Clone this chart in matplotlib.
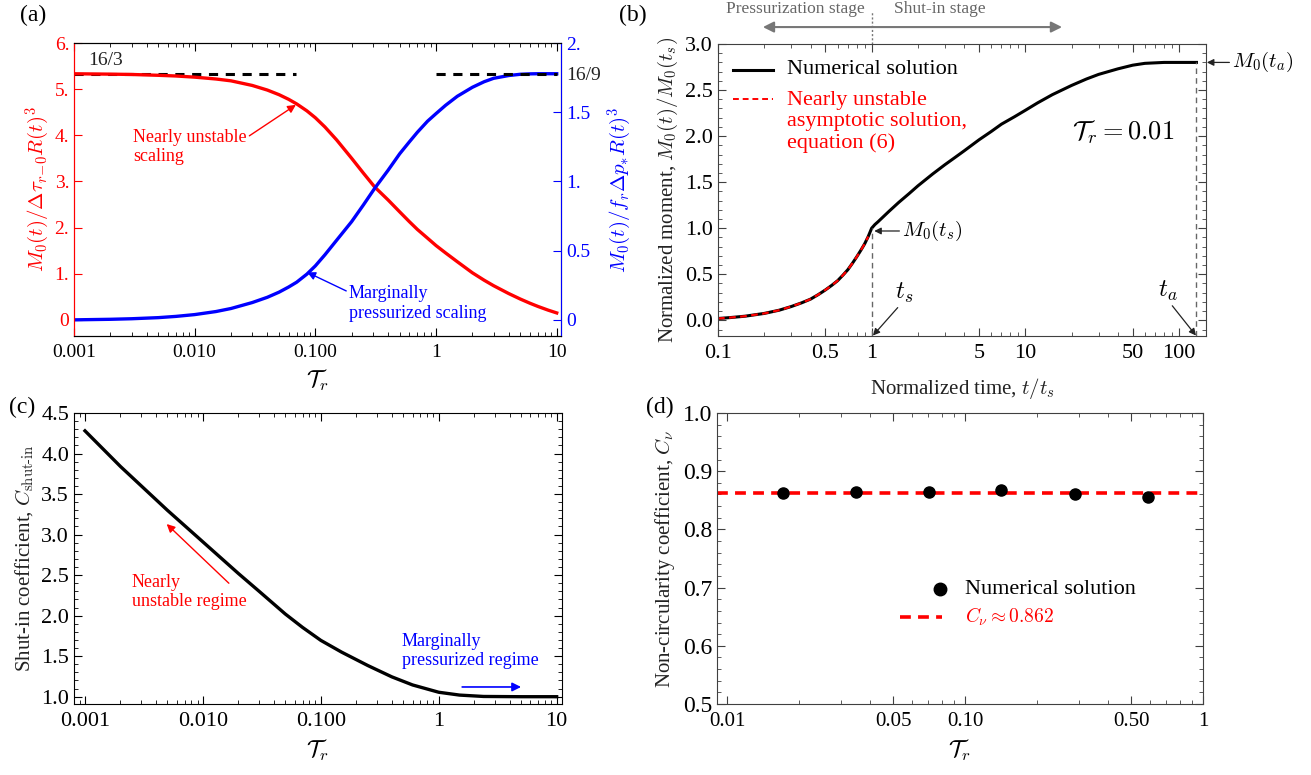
import numpy as np
import matplotlib
matplotlib.use("Agg")
import matplotlib.pyplot as plt
from matplotlib.ticker import (FixedLocator, FixedFormatter, NullFormatter, LogLocator,
                               MultipleLocator, FormatStrFormatter)

plt.rcParams['font.family'] = ['Liberation Serif', 'DejaVu Serif']
plt.rcParams['mathtext.fontset'] = 'cm'
plt.rcParams['xtick.direction'] = 'in'
plt.rcParams['ytick.direction'] = 'in'
plt.rcParams['xtick.major.pad'] = 6

# ---- data ----
# (a) scaled moment vs T_r
a_tau = [0.001, 0.002, 0.003, 0.005, 0.007, 0.01, 0.015, 0.02, 0.03, 0.04, 0.05, 0.06,
         0.07, 0.085, 0.1, 0.12, 0.15, 0.2, 0.25, 0.31, 0.4, 0.5, 0.6, 0.7, 0.85, 1.0,
         1.2, 1.5, 2.0, 2.5, 3.0, 4.0, 5.0, 6.0, 7.0, 8.5, 10]
a_red = [5.333, 5.325, 5.318, 5.30, 5.285, 5.26, 5.22, 5.18, 5.08, 4.98, 4.88, 4.78,
         4.68, 4.53, 4.38, 4.18, 3.90, 3.50, 3.18, 2.88, 2.60, 2.34, 2.13, 1.96, 1.77, 1.61,
         1.45, 1.26, 1.02, 0.86, 0.74, 0.57, 0.45, 0.36, 0.29, 0.21, 0.15]
a_blue = [0.0, 0.004, 0.008, 0.016, 0.025, 0.038, 0.06, 0.082, 0.125, 0.163, 0.20, 0.237,
          0.272, 0.33, 0.39, 0.47, 0.575, 0.71, 0.83, 0.95, 1.08, 1.20, 1.285, 1.355, 1.435,
          1.49, 1.55, 1.615, 1.68, 1.72, 1.745, 1.765, 1.774, 1.777, 1.778, 1.778, 1.778]
a_lim_red = 16 / 3
a_lim_blue = 16 / 9

# (b) normalized moment vs normalized time
b_t = [0.1, 0.12, 0.15, 0.2, 0.25, 0.3, 0.35, 0.4, 0.45, 0.5, 0.55, 0.6, 0.65, 0.7, 0.75,
       0.8, 0.85, 0.9, 0.95, 1.0, 1.05, 1.1, 1.2, 1.3, 1.5, 1.75, 2, 2.5, 3, 3.5, 4, 5, 6,
       7, 8.5, 10, 12, 15, 20, 25, 30, 40, 50, 60, 80, 100, 130]
b_M = [0.02, 0.03, 0.045, 0.075, 0.11, 0.15, 0.19, 0.23, 0.28, 0.33, 0.38, 0.43, 0.49,
       0.55, 0.62, 0.69, 0.76, 0.83, 0.91, 1.0, 1.04, 1.07, 1.13, 1.185, 1.28, 1.375, 1.46,
       1.59, 1.69, 1.77, 1.84, 1.96, 2.05, 2.13, 2.21, 2.28, 2.36, 2.45, 2.55, 2.62, 2.67,
       2.73, 2.77, 2.79, 2.80, 2.80, 2.80]
b_t_asym = [0.1, 0.12, 0.15, 0.2, 0.25, 0.3, 0.35, 0.4, 0.45, 0.5, 0.55, 0.6, 0.65, 0.7,
            0.75, 0.8, 0.85, 0.9, 0.95]
b_M_asym = [0.02, 0.03, 0.045, 0.075, 0.11, 0.15, 0.19, 0.23, 0.28, 0.33, 0.38, 0.43, 0.49,
            0.55, 0.62, 0.69, 0.76, 0.83, 0.91]
t_s, M_ts = 1.0, 1.0
t_a, M_ta = 130.0, 2.80

# (c) shut-in coefficient vs T_r
c_tau = [0.001, 0.002, 0.005, 0.01, 0.02, 0.03, 0.05, 0.07, 0.1, 0.15, 0.25, 0.4, 0.6,
         1.0, 1.5, 2.4, 5, 10]
c_C = [4.28, 3.84, 3.30, 2.91, 2.52, 2.30, 2.02, 1.855, 1.695, 1.55, 1.385, 1.245, 1.145,
       1.055, 1.02, 1.003, 1.0, 1.0]

# (d) non-circularity coefficient
d_tau = [0.0172, 0.0348, 0.0703, 0.142, 0.29, 0.589]
d_C = [0.862, 0.865, 0.865, 0.868, 0.861, 0.855]
d_fit = 0.862

RED = '#ff0000'
BLUE = '#0000ff'
GRAY = '#404040'

fig = plt.figure(figsize=(13.11, 7.75), dpi=100)
W, H = 1311, 775


def box(x0, y0, x1, y1):
    return [x0 / W, 1 - y1 / H, (x1 - x0) / W, (y1 - y0) / H]


def log_ticks(ax, major, labels):
    ax.xaxis.set_major_locator(FixedLocator(major))
    ax.xaxis.set_major_formatter(FixedFormatter(labels))
    ax.xaxis.set_minor_locator(LogLocator(subs=np.arange(2, 10)))
    ax.xaxis.set_minor_formatter(NullFormatter())


# ================= (a) =================
ax = fig.add_axes(box(74, 43, 561, 336))
ax2 = ax.twinx()
ax.plot(a_tau, a_red, color=RED, lw=2.4, zorder=3)
ax2.plot(a_tau, a_blue, color=BLUE, lw=2.4, zorder=2)
ax.plot([0.001, 0.069], [a_lim_red, a_lim_red], 'k--', lw=2.2, dashes=(3, 2.5))
ax2.plot([1, 10], [a_lim_blue, a_lim_blue], 'k--', lw=2.2, dashes=(3, 2.5))
ax.set_xscale('log')
ax.set_xlim(0.001, 10.85)
ax.set_ylim(-0.35, 6)
ax2.set_ylim(-0.35 / 3, 2)
log_ticks(ax, [0.001, 0.01, 0.1, 1, 10], ['0.001', '0.010', '0.100', '1', '10'])
ax.set_yticks(range(7))
ax.set_yticklabels(['0', '1.', '2.', '3.', '4.', '5.', '6.'])
ax2.set_yticks([0, 0.5, 1, 1.5, a_lim_blue, 2])
ax2.set_yticklabels(['0', '0.5', '1.', '1.5', '16/9', '2.'])
ax.tick_params(axis='x', which='both', top=True, labelsize=14)
ax.tick_params(axis='x', which='major', length=6)
ax.tick_params(axis='x', which='minor', length=3)
ax.tick_params(axis='y', colors=RED, labelsize=14, length=6)
ax2.tick_params(axis='y', colors=BLUE, labelsize=14, length=6)
ax2.get_yticklabels()[4].set_color('#222222')
ax2.yaxis.get_major_ticks()[4].tick2line.set_visible(False)
ax.spines['left'].set_color(RED)
ax2.spines['left'].set_color(RED)
ax2.spines['right'].set_color(BLUE)
ax.set_ylabel(r'$M_0(t)/\Delta\tau_{r\!-\!0}R(t)^3$', color=RED, fontsize=15, labelpad=2)
ax2.set_ylabel(r'$M_0(t)/f_r\Delta p_{*}R(t)^3$', color=BLUE, fontsize=15, labelpad=4)
ax.set_xlabel(r'$\mathcal{T}_r$', fontsize=17, labelpad=5)
ax.text(0.00131, 5.63, '16/3', fontsize=14, color='#222222', va='center')
ax.annotate('Nearly unstable\nscaling', xy=(0.069, 4.66), xytext=(0.00308, 3.75),
            color=RED, fontsize=13, va='center', ha='left',
            arrowprops=dict(arrowstyle='-|>', color=RED, lw=1.0, shrinkA=0, shrinkB=0,
                            mutation_scale=12, relpos=(1.0, 0.75)))
ax.annotate('Marginally\npressurized scaling', xy=(0.0857, 1.03), xytext=(0.19, 0.36),
            color=BLUE, fontsize=13, va='center', ha='left',
            arrowprops=dict(arrowstyle='-|>', color=BLUE, lw=1.0, shrinkA=0, shrinkB=0,
                            mutation_scale=12, relpos=(0.0, 0.8)))
fig.text(33 / W, 1 - 15 / H, '(a)', fontsize=17, ha='center', va='center')

# ================= (b) =================
ax = fig.add_axes(box(718, 44, 1206, 336))
ax.plot(b_t, b_M, color='k', lw=2.2)
ax.plot(b_t_asym, b_M_asym, color=RED, lw=1.6, ls=(0, (3, 2)))
ax.plot([t_s, t_s], [-0.17, M_ts], color='#666666', lw=1.0, ls=(0, (4, 3)))
ax.plot([t_a, t_a], [-0.17, M_ta], color='#666666', lw=1.0, ls=(0, (4, 3)))
ax.set_xscale('log')
ax.set_xlim(0.1, 150)
ax.set_ylim(-0.17, 3.0)
log_ticks(ax, [0.1, 0.5, 1, 5, 10, 50, 100], ['0.1', '0.5', '1', '5', '10', '50', '100'])
ax.yaxis.set_major_locator(MultipleLocator(0.5))
ax.yaxis.set_minor_locator(MultipleLocator(0.1))
ax.yaxis.set_major_formatter(FormatStrFormatter('%.1f'))
ax.tick_params(which='both', top=True, right=True, colors=GRAY, labelcolor='k', labelsize=16)
ax.tick_params(which='major', length=6)
ax.tick_params(which='minor', length=3)
for s in ax.spines.values():
    s.set_color(GRAY)
ax.set_xlabel(r'Normalized time, $t/t_s$', fontsize=15, color='#222222', labelpad=9)
ax.set_ylabel(r'Normalized moment, $M_0(t)/M_0(t_s)$', fontsize=15, color='#222222', labelpad=4)
ax.text(43, 2.04, r'$\mathcal{T}_r = 0.01$', fontsize=19, ha='center', va='center')
ak = dict(arrowstyle='-|>', color='#222222', lw=0.9, shrinkA=0, shrinkB=0, mutation_scale=10)
ax.annotate(r'$M_0(t_s)$', xy=(1.04, 0.97), xytext=(1.58, 0.97), fontsize=15,
            va='center', ha='left', arrowprops=ak)
ax.annotate(r'$t_s$', xy=(1.02, -0.165), xytext=(1.62, 0.30), fontsize=18,
            va='center', ha='center', arrowprops=dict(ak, relpos=(0.3, 0.0)))
ax.annotate(r'$M_0(t_a)$', xy=(152, M_ta), xytext=(222, M_ta), fontsize=15,
            va='center', ha='left', arrowprops=ak, annotation_clip=False)
ax.annotate(r'$t_a$', xy=(129, -0.165), xytext=(85, 0.32), fontsize=18,
            va='center', ha='center', arrowprops=dict(ak, relpos=(0.6, 0.0)))
# legend drawn by hand
ax.plot([0.031, 0.113], [0.911, 0.911], color='k', lw=2.2, transform=ax.transAxes)
ax.plot([0.031, 0.113], [0.812, 0.812], color=RED, lw=1.4, ls=(0, (3, 2)),
        transform=ax.transAxes)
ax.text(0.141, 0.911, 'Numerical solution', transform=ax.transAxes, fontsize=16,
        va='center', ha='left')
ax.text(0.141, 0.838, 'Nearly unstable\nasymptotic solution,\nequation (6)',
        transform=ax.transAxes, fontsize=16, va='top', ha='left', color=RED,
        linespacing=1.15)
# stage arrows above the axes
xs = 0.315
ax.plot([xs, xs], [1.0, 1.11], color='#777777', lw=1.0, ls=(0, (1.5, 1.5)),
        transform=ax.transAxes, clip_on=False)
ga = dict(arrowstyle='-|>', color='#777777', lw=1.5, shrinkA=0, shrinkB=0, mutation_scale=16)
ax.annotate('', xy=(0.092, 1.058), xytext=(xs, 1.058), xycoords='axes fraction',
            arrowprops=ga, annotation_clip=False)
ax.annotate('', xy=(0.705, 1.058), xytext=(xs, 1.058), xycoords='axes fraction',
            arrowprops=ga, annotation_clip=False)
ax.text(0.158, 1.12, 'Pressurization stage', transform=ax.transAxes, fontsize=12.5,
        color='#666666', ha='center', va='center')
ax.text(0.455, 1.12, 'Shut-in stage', transform=ax.transAxes, fontsize=12.5,
        color='#666666', ha='center', va='center')
fig.text(633 / W, 1 - 15 / H, '(b)', fontsize=17, ha='center', va='center')

# ================= (c) =================
ax = fig.add_axes(box(74, 413, 562, 704))
ax.plot(c_tau, c_C, color='k', lw=2.4)
ax.set_xscale('log')
ax.set_xlim(0.000807, 11.1)
ax.set_ylim(0.91, 4.5)
log_ticks(ax, [0.001, 0.01, 0.1, 1, 10], ['0.001', '0.010', '0.100', '1', '10'])
ax.yaxis.set_major_locator(MultipleLocator(0.5))
ax.yaxis.set_minor_locator(MultipleLocator(0.1))
ax.yaxis.set_major_formatter(FormatStrFormatter('%.1f'))
ax.tick_params(which='both', top=True, right=True, labelsize=16)
ax.tick_params(which='major', length=6)
ax.tick_params(which='minor', length=3)
ax.set_xlabel(r'$\mathcal{T}_r$', fontsize=17, labelpad=5)
ax.set_ylabel(r'Shut-in coefficient, $C_{\mathrm{shut}\text{-}\mathrm{in}}$', fontsize=15,
              color='#222222', labelpad=4)
ax.annotate('', xy=(0.00493, 3.13), xytext=(0.0166, 2.40),
            arrowprops=dict(arrowstyle='-|>', color=RED, lw=1.0, shrinkA=0, shrinkB=0,
                            mutation_scale=12))
ax.text(0.00249, 2.29, 'Nearly\nunstable regime', color=RED, fontsize=13, va='center',
        ha='left', linespacing=1.1)
ax.annotate('', xy=(4.99, 1.12), xytext=(1.58, 1.12),
            arrowprops=dict(arrowstyle='-|>', color=BLUE, lw=1.2, shrinkA=0, shrinkB=0,
                            mutation_scale=13))
ax.text(0.485, 1.565, 'Marginally\npressurized regime', color=BLUE, fontsize=13,
        va='center', ha='left', linespacing=1.1)
fig.text(22 / W, 1 - 407 / H, '(c)', fontsize=17, ha='center', va='center')

# ================= (d) =================
ax = fig.add_axes(box(717, 413, 1203, 704))
ax.axhline(d_fit, color=RED, lw=2.6, ls=(0, (3, 2)))
ax.plot(d_tau, d_C, 'o', color='k', ms=8)
ax.set_xscale('log')
ax.set_xlim(0.00908, 1)
ax.set_ylim(0.5, 1.0)
log_ticks(ax, [0.01, 0.05, 0.1, 0.5, 1], ['0.01', '0.05', '0.10', '0.50', '1'])
ax.yaxis.set_major_locator(MultipleLocator(0.1))
ax.yaxis.set_minor_locator(MultipleLocator(0.02))
ax.yaxis.set_major_formatter(FormatStrFormatter('%.1f'))
ax.tick_params(which='both', top=True, right=True, colors=GRAY, labelcolor='k')
ax.tick_params(axis='y', labelsize=17)
ax.tick_params(axis='x', labelsize=15)
ax.tick_params(which='major', length=6)
ax.tick_params(which='minor', length=3)
for s in ax.spines.values():
    s.set_color(GRAY)
ax.set_xlabel(r'$\mathcal{T}_r$', fontsize=17, labelpad=5)
ax.set_ylabel(r'Non-circularity coefficient, $C_\nu$', fontsize=15, color='#222222',
              labelpad=4)
ax.plot([0.459], [0.395], 'o', color='k', ms=9, transform=ax.transAxes)
ax.text(0.51, 0.395, 'Numerical solution', transform=ax.transAxes, fontsize=16,
        va='center', ha='left')
ax.plot([0.377, 0.463], [0.299, 0.299], color=RED, lw=2.6, ls=(0, (3, 2)),
        transform=ax.transAxes)
ax.text(0.51, 0.299, r'$C_\nu \approx 0.862$', transform=ax.transAxes, fontsize=14,
        va='center', ha='left', color=RED)
fig.text(660 / W, 1 - 407 / H, '(d)', fontsize=17, ha='center', va='center')

fig.savefig('out.png', dpi=100)
